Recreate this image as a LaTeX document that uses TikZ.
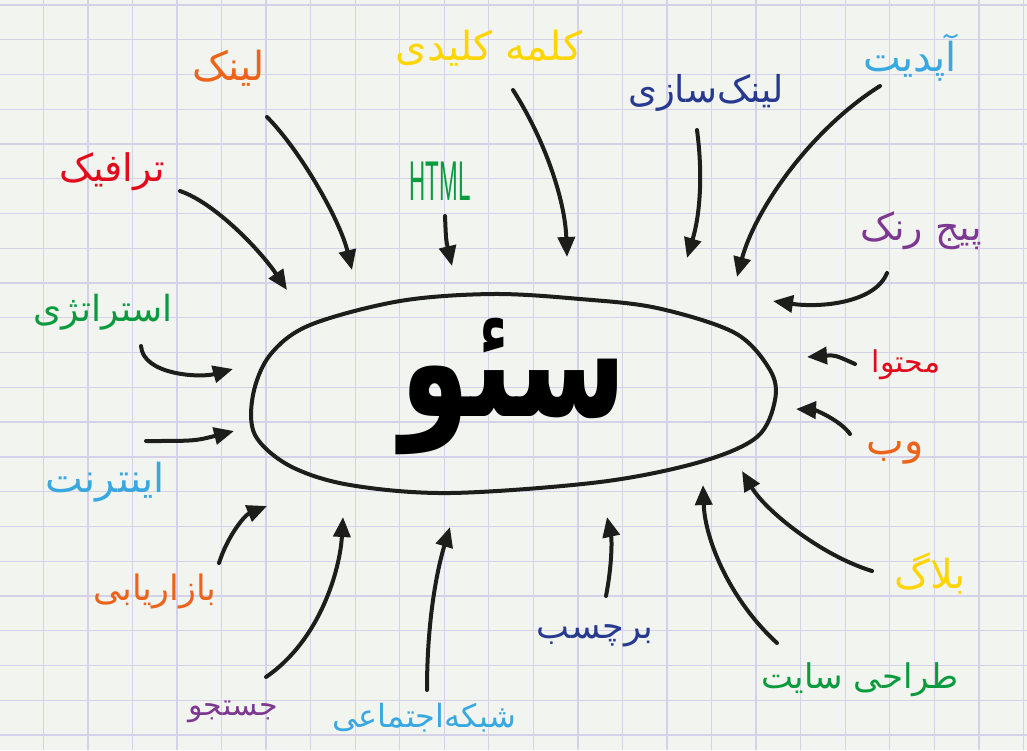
\documentclass[tikz,border=0pt]{standalone}
\usepackage{fontspec}
\usetikzlibrary{arrows.meta}
\newfontfamily\fafont[Script=Arabic]{DejaVu Sans}
\newfontfamily\htmlfont{Liberation Sans}
\TeXXeTstate=1
\definecolor{paper}{HTML}{F2F5EF}
\definecolor{gridc}{HTML}{D4D1E9}
\definecolor{ink}{HTML}{1D1D1B}
\definecolor{cOrange}{HTML}{EC6319}
\definecolor{cYellow}{HTML}{FFD500}
\definecolor{cNavy}{HTML}{283A90}
\definecolor{cSky}{HTML}{3AA8E0}
\definecolor{cRed}{HTML}{E30A1C}
\definecolor{cGreen}{HTML}{0C9A3E}
\definecolor{cPurple}{HTML}{7D3891}

\begin{document}
\begin{tikzpicture}[x=1pt,y=-1pt,
		lbl/.style={font=\fafont\fontsize{#1}{#1}\selectfont, inner sep=0pt},
		arr/.style={ink, line width=4pt, line cap=round, -{Triangle[length=20pt,width=17pt]}}]
		\fill[paper] (0,0) rectangle (1027,750);
		\useasboundingbox (0,0) rectangle (1027,750);
		\foreach \i in {0,...,22}
			\draw[gridc, line width=1.3pt] ({43.3+44.55*\i},0) -- ({43.3+44.55*\i},750);
		\foreach \j in {0,...,21}
			\draw[gridc, line width=1.3pt] (0,{5+34.76*\j}) -- (1027,{5+34.76*\j});

		\draw[ink, line width=4pt] plot[smooth cycle, tension=0.55] coordinates {(493,294) (580,299) (657,308) (735,333) (770,370) (775,400) (757,437) (700,462) (600,482) (450,493) (350,485) (290,466) (255,435) (253,395) (270,355) (310,325) (400,301)};
		\node[font=\fafont\bfseries\fontsize{112}{112}\selectfont, yscale=1.4, inner sep=0pt] (seo) at (514,386) {\beginR سئو\endR};

		\node[lbl=40, text=cOrange] (lnk) at (229,68) {\beginR لینک\endR};
		\node[lbl=40, text=cYellow] (klm) at (489,48) {\beginR کلمه کلیدی\endR};
		\node[lbl=37, text=cNavy] (lsz) at (706,93) {\beginR لینک‌سازی\endR};
		\node[lbl=40, text=cSky] (upd) at (910,58) {\beginR آپدیت\endR};
		\node[lbl=38, text=cRed] (trf) at (112,172) {\beginR ترافیک\endR};
		\node[font=\htmlfont\fontsize{56}{56}\selectfont, text=cGreen, xscale=0.4, inner sep=0pt] (html) at (440,181) {HTML};
		\node[lbl=38, text=cPurple] (prk) at (921,231) {\beginR پیج رنک\endR};
		\node[lbl=36, text=cGreen] (str) at (103,312) {\beginR استراتژی\endR};
		\node[lbl=30, text=cRed] (mht) at (906,365) {\beginR محتوا\endR};
		\node[lbl=40, text=cOrange] (web) at (895,453) {\beginR وب\endR};
		\node[lbl=40, text=cSky] (int) at (105,482) {\beginR اینترنت\endR};
		\node[lbl=35, text=cOrange] (bzr) at (155,591) {\beginR بازاریابی\endR};
		\node[lbl=40, text=cYellow] (blg) at (930,573) {\beginR بلاگ\endR};
		\node[lbl=35, text=cNavy] (brc) at (595,636) {\beginR برچسب\endR};
		\node[lbl=34, text=cGreen] (tsa) at (860,680) {\beginR طراحی سایت\endR};
		\node[lbl=30, text=cPurple] (jst) at (233,712) {\beginR جستجو\endR};
		\node[lbl=32, text=cSky] (shb) at (424,718) {\beginR شبکه‌اجتماعی\endR};

		\coordinate (lnkS) at (267,117);  \coordinate (lnkT) at (352,270);
		\coordinate (trfS) at (180,191);  \coordinate (trfT) at (287,290);
		\coordinate (htmlS) at (445,216); \coordinate (htmlT) at (452,266);
		\coordinate (klmS) at (513,90);   \coordinate (klmT) at (567,257);
		\coordinate (lszS) at (697,130);  \coordinate (lszT) at (687,258);
		\coordinate (updS) at (880,86);   \coordinate (updT) at (737,277);
		\coordinate (prkS) at (887,273);  \coordinate (prkT) at (773,301);
		\coordinate (mhtS) at (855,364);  \coordinate (mhtT) at (807,357);
		\coordinate (webS) at (850,434);  \coordinate (webT) at (796,409);
		\coordinate (blgS) at (872,571);  \coordinate (blgT) at (742,471);
		\coordinate (tsaS) at (777,643);  \coordinate (tsaT) at (703,485);
		\coordinate (brcS) at (606,596);  \coordinate (brcT) at (607,517);
		\coordinate (shbS) at (427,690);  \coordinate (shbT) at (450,527);
		\coordinate (jstS) at (266,677);  \coordinate (jstT) at (343,517);
		\coordinate (bzrS) at (219,563);  \coordinate (bzrT) at (267,506);
		\coordinate (intS) at (146,441);  \coordinate (intT) at (234,431);
		\coordinate (strS) at (141,346);  \coordinate (strT) at (233,369);

		\draw[arr] (lnkS) .. controls (300,150) and (340,220) .. (lnkT);
		\draw[arr] (trfS) .. controls (215,203) and (260,250) .. (trfT);
		\draw[arr] (htmlS) .. controls (446,240) .. (htmlT);
		\draw[arr] (klmS) .. controls (545,140) and (565,200) .. (klmT);
		\draw[arr] (lszS) .. controls (703,175) and (700,215) .. (lszT);
		\draw[arr] (updS) .. controls (810,130) and (755,210) .. (updT);
		\draw[arr] (prkS) .. controls (875,303) and (820,308) .. (prkT);
		\draw[arr] (mhtS) .. controls (835,355) .. (mhtT);
		\draw[arr] (webS) .. controls (840,420) and (815,410) .. (webT);
		\draw[arr] (blgS) .. controls (820,555) and (765,510) .. (blgT);
		\draw[arr] (tsaS) .. controls (730,600) and (705,540) .. (tsaT);
		\draw[arr] (brcS) .. controls (612,565) and (612,540) .. (brcT);
		\draw[arr] (shbS) .. controls (427,620) and (437,570) .. (shbT);
		\draw[arr] (jstS) .. controls (320,640) and (340,570) .. (jstT);
		\draw[arr] (bzrS) .. controls (228,535) and (245,515) .. (bzrT);
		\draw[arr] (intS) .. controls (195,441) .. (intT);
		\draw[arr] (strS) .. controls (143,375) and (200,378) .. (strT);
	\end{tikzpicture}
\end{document}
